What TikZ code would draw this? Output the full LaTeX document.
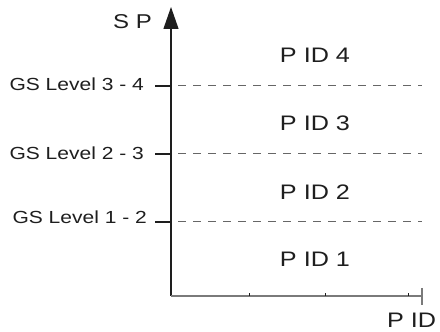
\documentclass[tikz,border=0pt]{standalone}
\usepackage{fontspec}
\setmainfont{Liberation Sans}[FakeStretch=1.2]
\usetikzlibrary{arrows.meta}

\definecolor{inkdark}{HTML}{1E1E1E}
\definecolor{dashgray}{HTML}{666666}
\definecolor{axisgray}{HTML}{7A7A7A}

\begin{document}
\begin{tikzpicture}[
    x=1pt, y=1pt,
    every node/.style={inner sep=0pt, text=inkdark},
    levellabel/.style={anchor=east, font=\fontsize{17.5}{20}\selectfont},
    pidlabel/.style={font=\fontsize{21}{24}\selectfont},
    levelline/.style={dashgray, line width=1pt, dash pattern=on 8pt off 7pt},
    leveltick/.style={inkdark, line width=2pt},
]
\useasboundingbox (0,0) rectangle (440,332);

% === Axes ===
\coordinate (origin) at (171,36);
\coordinate (ytop) at (171,325);
\coordinate (xend) at (422,36);
\draw[inkdark, line width=1.2pt, -{Triangle[length=22pt, width=15pt]}] (origin) -- (ytop);
\draw[axisgray, line width=1.6pt] (origin) -- (xend);
\draw[axisgray, line width=1.2pt] ([yshift=8pt]xend) -- ([yshift=-9pt]xend);
\foreach \tx in {249,325,408}
    \draw[inkdark, line width=1pt] (\tx,36) -- (\tx,38.5);
\node[font=\fontsize{20}{24}\selectfont] (splabel) at (132.5,310) {S P};
\node[pidlabel, anchor=west] (pidaxis) at (387,12) {P ID};

% === Level boundaries ===
\foreach \lvl/\ly in {3 - 4/246, 2 - 3/178, 1 - 2/110} {
    \coordinate (tickstart) at (155,\ly);
    \coordinate (dashstart) at (178,\ly);
    \coordinate (dashend) at (422,\ly);
    \draw[leveltick] (tickstart) -- (171,\ly);
    \draw[levelline] (dashstart) -- (dashend);
}
\node[levellabel] (lvl34) at (144,248) {GS Level 3 - 4};
\node[levellabel] (lvl23) at (144,179) {GS Level 2 - 3};
\node[levellabel] (lvl12) at (147,114.5) {GS Level 1 - 2};

% === PID regions ===
\node[pidlabel] (pid4) at (315,276.5) {P ID 4};
\node[pidlabel] (pid3) at (315,208.5) {P ID 3};
\node[pidlabel] (pid2) at (315,140) {P ID 2};
\node[pidlabel] (pid1) at (315,73) {P ID 1};

\end{tikzpicture}
\end{document}
